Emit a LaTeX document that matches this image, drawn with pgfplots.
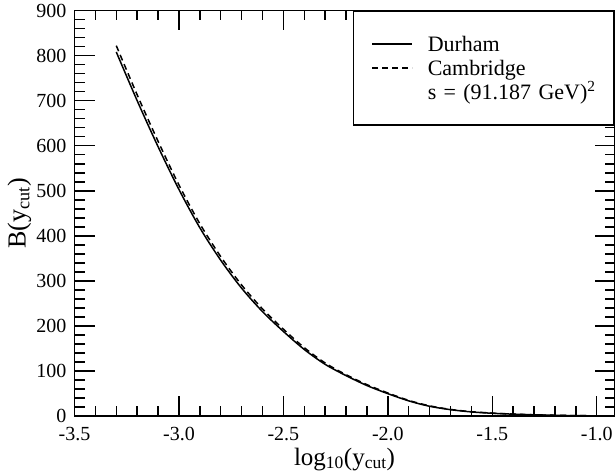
\documentclass[border=0pt]{standalone}
\usepackage{fontspec}
\setmainfont{Liberation Serif}
\usepackage{pgfplots}
\pgfplotsset{compat=1.18}
\begin{document}
\begin{tikzpicture}
\useasboundingbox (0,0) rectangle (616pt,476pt);
\begin{axis}[
  at={(74.5pt,59.8pt)}, anchor=south west,
  scale only axis, width=540pt, height=405.7pt,
  xmin=-3.5, xmax=-0.915, ymin=0, ymax=900,
  xtick={-3.5,-3,-2.5,-2,-1.5,-1},
  ytick={0,100,...,900},
  minor x tick num=4, minor y tick num=4,
  major tick length=20pt, minor tick length=10pt,
  tick align=inside,
  axis line style={line width=1.8pt},
  tick style={line width=1.5pt, black},
  /pgf/number format/assume math mode=true,
  xticklabel style={/pgf/number format/fixed, /pgf/number format/fixed zerofill, /pgf/number format/precision=1,
     font=\fontsize{20}{20}\selectfont, anchor=north, inner sep=0pt, yshift=-11pt},
  yticklabel style={font=\fontsize{20}{20}\selectfont, anchor=east, inner sep=0pt, xshift=-8pt},
  xlabel={log\textsubscript{10}(y\textsubscript{cut})},
  ylabel={B(y\textsubscript{cut})},
  every axis x label/.style={at={(axis description cs:0.5,-0.106)}, anchor=center, inner sep=0pt, font=\fontsize{25}{25}\selectfont},
  every axis y label/.style={at={(axis description cs:-0.102,0.5)}, rotate=90, anchor=center, font=\fontsize{26}{26}\selectfont},
  legend image code/.code={\draw[#1] (0pt,0pt) -- (40pt,0pt);},
  legend cell align=left,
  legend style={at={(1,1)}, anchor=north east, draw=black, line width=1.5pt, fill=white,
     inner xsep=18pt, inner ysep=21pt, column sep=15pt, row sep=0pt,
     font=\fontsize{22}{22}\selectfont,
     nodes={inner sep=0pt, text width=168pt, align=left, text height=19pt, text depth=5pt}},
]
\addplot[black, line width=1.5pt, smooth] coordinates {
(-3.3,808) (-3.2,700) (-3.1,598) (-3.0,503) (-2.9,418) (-2.8,346) (-2.7,284)
(-2.6,232) (-2.5,188) (-2.4,148) (-2.3,115) (-2.2,90) (-2.1,68) (-2.0,50)
(-1.9,34) (-1.8,22) (-1.7,14.5) (-1.6,9.5) (-1.5,6.5) (-1.4,4.5) (-1.3,3)
(-1.2,2) (-1.1,1.2) (-1.05,1)
};
\addlegendentry{Durham}
\addplot[black, line width=1.5pt, smooth, dash pattern=on 6pt off 4pt] coordinates {
(-3.3,822) (-3.2,713) (-3.1,610) (-3.0,513) (-2.9,427) (-2.8,354) (-2.7,291)
(-2.6,238) (-2.5,193) (-2.4,152) (-2.3,118) (-2.2,92) (-2.1,70) (-2.0,51.5)
(-1.9,35) (-1.8,23) (-1.7,15) (-1.6,10) (-1.5,6.8) (-1.4,4.7) (-1.3,3.1)
(-1.2,2.1) (-1.1,1.3) (-1.05,1.05)
};
\addlegendentry{Cambridge}
\addlegendimage{empty legend}
\addlegendentry{s = (91.187 GeV)\textsuperscript{2}}
\end{axis}
\end{tikzpicture}
\end{document}
